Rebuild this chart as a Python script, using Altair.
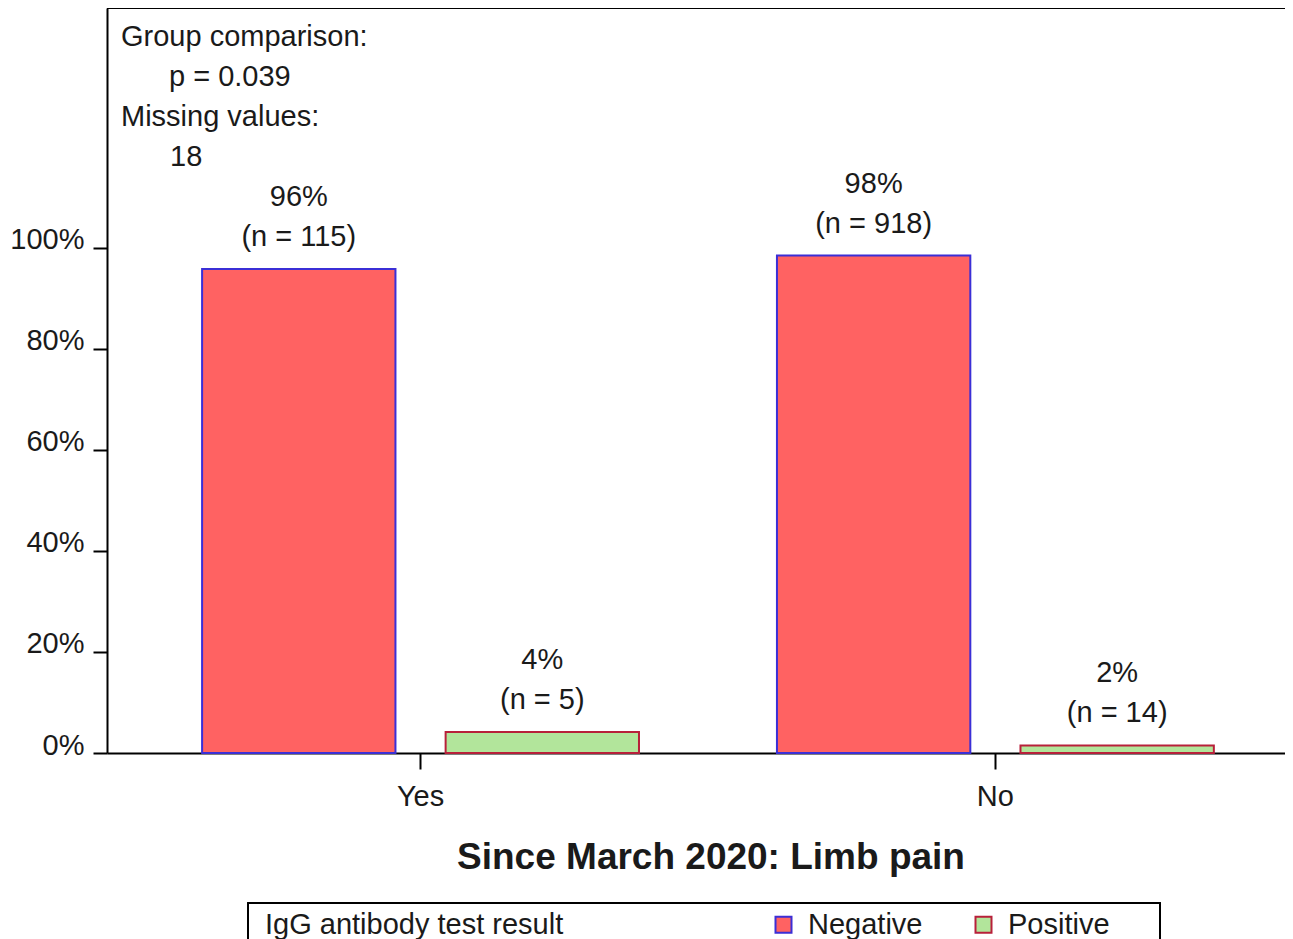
import altair as alt
import pandas as pd

# ---- data ----
groups = ["Yes", "Yes", "No", "No"]
results = ["Negative", "Positive", "Negative", "Positive"]
counts = [115, 5, 918, 14]
group_totals = [120, 120, 932, 932]

note_lines = ["Group comparison:", "p = 0.039", "Missing values:", "18"]
note_indent = [14, 62, 14, 63]
note_y = [29, 69, 109, 149]

y_ticks = [0, 20, 40, 60, 80, 100]
legend_title = "IgG antibody test result"
chart_title = "Since March 2020: Limb pain"

df = pd.DataFrame({
    "group": groups,
    "result": results,
    "n": counts,
    "total": group_totals,
})
df["pct"] = df["n"] / df["total"] * 100

notes = pd.DataFrame({"text": note_lines, "x": note_indent, "y": note_y})
title_df = pd.DataFrame({"text": [chart_title]})

FONT = "Liberation Sans"
FS = 29
TXT = "#1a1a1a"
W, H = 1178, 745

fill_scale = alt.Scale(domain=["Negative", "Positive"], range=["#FF6262", "#B2E59B"])
stroke_scale = alt.Scale(domain=["Negative", "Positive"], range=["#3B2FD6", "#B8203A"])

x_enc = alt.X(
    "group:N",
    sort=["Yes", "No"],
    scale=alt.Scale(paddingInner=0.24, paddingOuter=0.1446, align=0.572),
    axis=alt.Axis(
        title=None, labelAngle=0, labelFontSize=FS, labelFont=FONT, labelColor=TXT,
        domainColor="black", domainWidth=2, tickColor="black", tickWidth=2, tickSize=16,
        labelPadding=13, grid=False,
    ),
)
xoff_enc = alt.XOffset("result:N", sort=["Negative", "Positive"],
                       scale=alt.Scale(paddingInner=0.206, paddingOuter=0))
y_enc = alt.Y(
    "pct:Q",
    scale=alt.Scale(domain=[0, 147.5], nice=False),
    axis=alt.Axis(
        title=None, values=y_ticks, labelExpr="datum.value + '%'",
        labelFontSize=FS, labelFont=FONT, labelColor=TXT,
        domainColor="black", domainWidth=2, tickColor="black", tickWidth=2, tickSize=14,
        labelPadding=9, labelBaseline="alphabetic", labelOffset=1, grid=False,
    ),
)

base = alt.Chart(df)

bars = base.mark_bar(strokeWidth=2).encode(
    x=x_enc,
    xOffset=xoff_enc,
    y=y_enc,
    fill=alt.Fill(
        "result:N", scale=fill_scale,
        legend=alt.Legend(
            title=legend_title, orient="none", direction="horizontal",
            legendX=158, legendY=902, titleOrient="left", titlePadding=205,
            titleFontSize=FS, titleFont=FONT, titleFontWeight="normal", titleColor=TXT,
            titleBaseline="middle", titleLimit=500,
            labelFontSize=FS, labelFont=FONT, labelColor=TXT, labelOffset=10,
            symbolType="square", symbolSize=256, symbolStrokeWidth=2,
            columnPadding=46, padding=0,
        ),
    ),
    stroke=alt.Stroke("result:N", scale=stroke_scale),
)

labels = base.transform_calculate(
    label="[format(datum.pct, '.0f') + '%', '(n = ' + datum.n + ')']"
).mark_text(
    fontSize=FS, font=FONT, color=TXT, baseline="bottom", lineHeight=40, dy=-57
).encode(
    x=alt.X("group:N", sort=["Yes", "No"]),
    xOffset=alt.XOffset("result:N", sort=["Negative", "Positive"]),
    y="pct:Q",
    text="label:N",
)

note_text = alt.Chart(notes).mark_text(
    fontSize=FS, font=FONT, color=TXT, align="left", baseline="middle"
).encode(
    x=alt.X("x:Q", scale=None),
    y=alt.Y("y:Q", scale=None),
    text="text:N",
)

title_text = alt.Chart(title_df).mark_text(
    fontSize=37, font=FONT, fontWeight="bold", color=TXT, align="center", baseline="middle"
).encode(
    x=alt.value(604), y=alt.value(850), text="text:N"
)

top_line = alt.Chart(df).mark_rule(color="black", strokeWidth=2).encode(
    x=alt.value(0), x2=alt.value(W), y=alt.value(0)
)

legend_box = alt.Chart(df).mark_rect(fill=None, stroke="black", strokeWidth=1.5).encode(
    x=alt.value(141), x2=alt.value(1053), y=alt.value(895), y2=alt.value(960)
)

chart = alt.layer(bars, labels, note_text, title_text, top_line, legend_box).properties(
    width=W,
    height=H,
    autosize=alt.AutoSizeParams(type="none"),
    padding={"left": 99, "top": 0, "right": 0, "bottom": 194},
).configure_view(stroke=None)

chart.save("out.html", embed_options={"renderer": "svg", "actions": False})
